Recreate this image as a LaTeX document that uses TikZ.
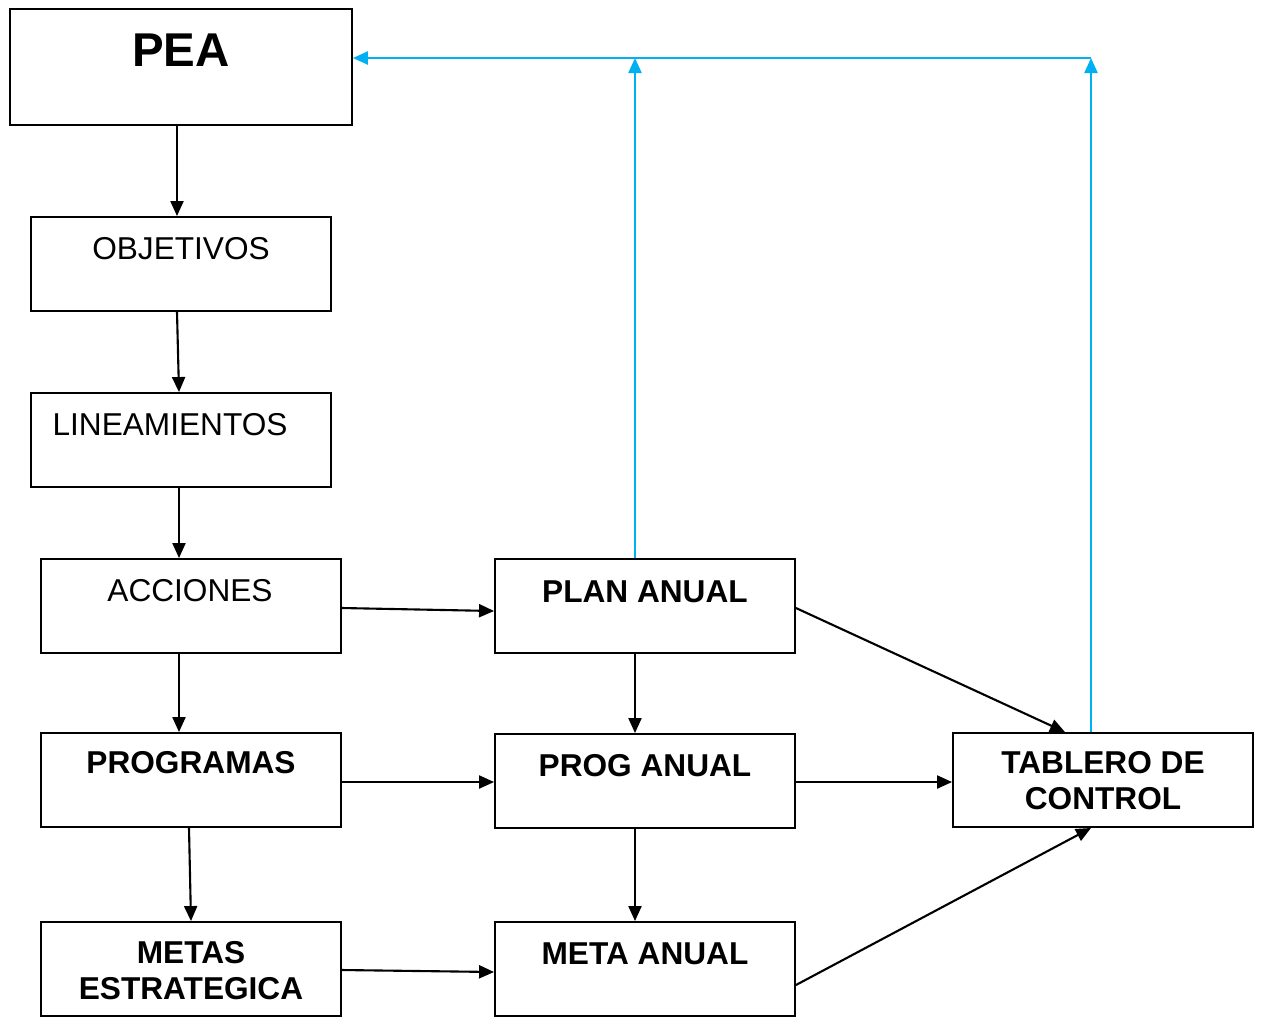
\documentclass[tikz,border=0pt]{standalone}
\usepackage{fontspec}
\setmainfont{Liberation Sans}
\usetikzlibrary{arrows.meta,calc}
\definecolor{flujo}{RGB}{0,176,240}
\begin{document}
\begin{tikzpicture}[x=0.02cm, y=-0.02cm,
		caja/.style={draw, line width=1.1pt, minimum width=6cm, minimum height=1.88cm, inner sep=0pt},
		txt/.style={anchor=base, inner sep=0pt, font=\fontsize{18}{20.5}\selectfont},
		txtb/.style={txt, font=\fontsize{18}{20.5}\selectfont\bfseries},
		flecha/.style={-{Triangle[length=0.3cm,width=0.26cm]}, line width=1.2pt},
		azul/.style={flecha, flujo, line width=1.3pt}]
			\useasboundingbox (0, 0) rectangle (1261, 1019);

			% columna izquierda
			\node[caja, minimum width=6.84cm, minimum height=2.32cm] (pea) at (181, 67) {};
			\node[caja] (obj)	at (181, 264) {};
			\node[caja] (lin)	at (181, 440) {};
			\node[caja] (acc)	at (191, 606) {};
			\node[caja] (prg)	at (191, 780) {};
			\node[caja] (met)	at (191, 969) {};
			% columna central y derecha
			\node[caja] (plan)	at (645, 606) {};
			\node[caja] (pranual)	at (645, 781) {};
			\node[caja] (manual)	at (645, 969) {};
			\node[caja] (tab)	at (1103, 780) {};

			\node[txtb, font=\fontsize{27}{30}\selectfont\bfseries] (peatxt) at (181, 66) {PEA};
			\node[txt] (objtxt)	at (181, 259) {OBJETIVOS};
			\node[txt] (lintxt)	at (170, 435) {LINEAMIENTOS};
			\node[txt] (acctxt)	at (190, 601) {ACCIONES};
			\node[txtb] (prgtxt)	at (191, 773) {PROGRAMAS};
			\node[txtb] (mettxt)	at (191, 963) {METAS};
			\node[txtb] (mettxt2)	at (191, 999) {ESTRATEGICA};
			\node[txtb] (plantxt)	at (645, 602) {PLAN ANUAL};
			\node[txtb] (prantxt)	at (645, 776) {PROG ANUAL};
			\node[txtb] (mantxt)	at (645, 964) {META ANUAL};
			\node[txtb] (tabtxt)	at (1103, 773) {TABLERO DE};
			\node[txtb] (tabtxt2)	at (1103, 809) {CONTROL};

			\coordinate (peain) at ($(pea.east)+(0, -9)$);
			\coordinate (tabup) at ($(tab.north)+(-12, 0)$);
			\coordinate (planup) at ($(plan.north)+(-10, 0)$);

			\draw[flecha]	($(pea.south)+(-4, 0)$) -- ($(obj.north)+(-4, 0)$);
			\draw[flecha]	($(obj.south)+(-4, 0)$) -- ($(lin.north)+(-2, 0)$);
			\draw[flecha]	($(lin.south)+(-2, 0)$) -- ($(acc.north)+(-12, 0)$);
			\draw[flecha]	($(acc.south)+(-12, 0)$) -- ($(prg.north)+(-12, 0)$);
			\draw[flecha]	($(prg.south)+(-2, 0)$) -- (met.north);
			\draw[flecha]	($(acc.east)+(0, 2)$) -- ($(plan.west)+(0, 5)$);
			\draw[flecha]	($(prg.east)+(0, 2)$) -- ($(pranual.west)+(0, 1)$);
			\draw[flecha]	($(met.east)+(0, 1)$) -- ($(manual.west)+(0, 3)$);
			\draw[flecha]	($(plan.south)+(-10, 0)$) -- ($(pranual.north)+(-10, 0)$);
			\draw[flecha]	($(pranual.south)+(-10, -2)$) -- ($(manual.north)+(-10, 0)$);
			\draw[flecha]	($(plan.east)+(0, 2)$) -- ($(tab.north)+(-38, 0)$);
			\draw[flecha]	($(pranual.east)+(0, 1)$) -- ($(tab.west)+(0, 2)$);
			\draw[flecha]	($(manual.east)+(0, 16)$) -- ($(tab.south)+(-12, 0)$);

			\draw[azul]	(planup) -- (planup |- peain);
			\draw[azul]	(tabup) -- (tabup |- peain);
			\draw[azul]	(tabup |- peain) -- (peain);
		\end{tikzpicture}
\end{document}
